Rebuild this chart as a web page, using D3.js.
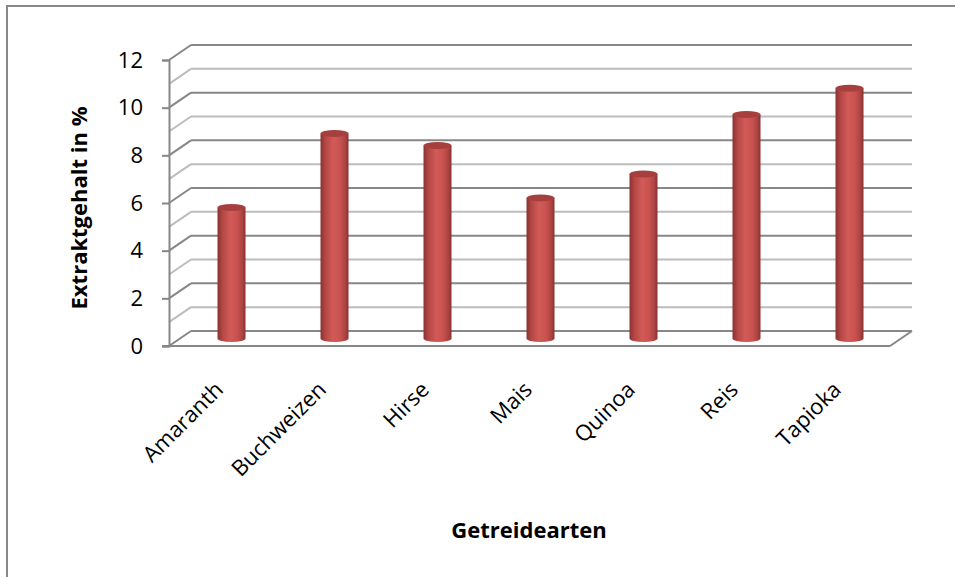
<!DOCTYPE html>
<html>
<head>
<meta charset="utf-8">
<script src="https://cdn.jsdelivr.net/npm/d3@7"></script>
<style>
  body { margin: 0; background: #fff; }
  svg text { font-family: "Open Sans", "Noto Sans", sans-serif; fill: #000; }
</style>
</head>
<body>
<script>
var categories = ["Amaranth", "Buchweizen", "Hirse", "Mais", "Quinoa", "Reis", "Tapioka"];
var values = [5.5, 8.6, 8.1, 5.9, 6.9, 9.4, 10.5];
var yTicks = [0, 2, 4, 6, 8, 10, 12];
var gridSteps = [0, 1, 2, 3, 4, 5, 6, 7, 8, 9, 10, 11, 12];
var yTitle = "Extraktgehalt in %";
var xTitle = "Getreidearten";

var width = 955, height = 577;
var plotLeft = 169, plotRight = 890, plotBottom = 346, plotTop = 60;
var depthX = 22, depthY = -15;
var barRadius = 14;

var svg = d3.select("body").append("svg")
    .attr("width", width)
    .attr("height", height);

svg.append("rect")
    .attr("x", 7)
    .attr("y", 6)
    .attr("width", 980)
    .attr("height", 620)
    .attr("fill", "#fff")
    .attr("stroke", "#898989")
    .attr("stroke-width", 2);

var x = d3.scaleBand()
    .domain(categories)
    .range([plotLeft, plotRight]);

var y = d3.scaleLinear()
    .domain([0, 12])
    .range([plotBottom, plotTop]);

var defs = svg.append("defs");
var grad = defs.append("linearGradient")
    .attr("id", "cyl")
    .attr("x1", "0%").attr("x2", "100%")
    .attr("y1", "0%").attr("y2", "0%");
[["0%", "#8a3331"], ["18%", "#b44745"], ["45%", "#d25a57"], ["70%", "#c95250"], ["88%", "#ad4442"], ["100%", "#873230"]]
  .forEach(function(s) {
    grad.append("stop").attr("offset", s[0]).attr("stop-color", s[1]);
  });

function lineColor(v) { return v % 2 === 0 ? "#878787" : "#bcbcbc"; }

// back wall gridlines + side wall diagonals
var grid = svg.append("g").attr("class", "grid");
grid.selectAll(".back")
    .data(gridSteps)
  .enter().append("line")
    .attr("x1", plotLeft + depthX)
    .attr("x2", plotRight + depthX)
    .attr("y1", function(d) { return y(d) + depthY; })
    .attr("y2", function(d) { return y(d) + depthY; })
    .attr("stroke", lineColor)
    .attr("stroke-width", 2);

grid.selectAll(".side")
    .data(gridSteps)
  .enter().append("line")
    .attr("x1", plotLeft)
    .attr("x2", plotLeft + depthX)
    .attr("y1", function(d) { return y(d); })
    .attr("y2", function(d) { return y(d) + depthY; })
    .attr("stroke", lineColor)
    .attr("stroke-width", 2);

// floor right edge + front edge
grid.append("line")
    .attr("x1", plotRight).attr("y1", y(0))
    .attr("x2", plotRight + depthX).attr("y2", y(0) + depthY)
    .attr("stroke", "#878787").attr("stroke-width", 2);
grid.append("line")
    .attr("x1", plotLeft - 7).attr("y1", y(0))
    .attr("x2", plotRight).attr("y2", y(0))
    .attr("stroke", "#878787").attr("stroke-width", 2);

// y axis
var yAxis = d3.axisLeft(y)
    .tickValues(yTicks)
    .tickSize(7)
    .tickPadding(19);
var gy = svg.append("g")
    .attr("transform", "translate(" + plotLeft + ",0)")
    .call(yAxis);
gy.select(".domain").attr("stroke", "#878787").attr("stroke-width", 2);
gy.selectAll(".tick line").attr("stroke", "#878787").attr("stroke-width", 2);
gy.selectAll(".tick text")
    .style("font-size", "22px")
    .attr("fill", "#000");

// bars (cylinders at mid depth)
var bars = svg.selectAll(".bar")
    .data(categories.map(function(c, i) { return {name: c, value: values[i]}; }))
  .enter().append("g")
    .attr("class", "bar");

function cx(d) { return x(d.name) + x.bandwidth() / 2 + depthX / 2; }
function cyTop(d) { return y(d.value) + depthY / 2; }
var base = y(0) + depthY / 2;

bars.append("path")
    .attr("d", function(d) {
      var c = cx(d), t = cyTop(d);
      return "M" + (c - barRadius) + "," + t +
        "L" + (c - barRadius) + "," + base +
        "A" + barRadius + ",3.5 0 0 0 " + (c + barRadius) + "," + base +
        "L" + (c + barRadius) + "," + t + "Z";
    })
    .attr("fill", "url(#cyl)");

bars.append("ellipse")
    .attr("cx", cx)
    .attr("cy", cyTop)
    .attr("rx", barRadius)
    .attr("ry", 3.5)
    .attr("fill", "#a6403e");

// category labels
svg.selectAll(".cat")
    .data(categories)
  .enter().append("text")
    .attr("class", "cat")
    .attr("transform", function(d) {
      return "translate(" + (x(d) + x.bandwidth() / 2 + 4) + "," + (plotBottom + 45) + ") rotate(-45)";
    })
    .attr("text-anchor", "end")
    .style("font-size", "22px")
    .text(function(d) { return d; });

svg.append("text")
    .attr("transform", "translate(87,208) rotate(-90)")
    .attr("text-anchor", "middle")
    .style("font-size", "22px")
    .style("font-weight", "bold")
    .text(yTitle);

svg.append("text")
    .attr("x", 529)
    .attr("y", 538)
    .attr("text-anchor", "middle")
    .style("font-size", "22px")
    .style("font-weight", "bold")
    .text(xTitle);
</script>
</body>
</html>
